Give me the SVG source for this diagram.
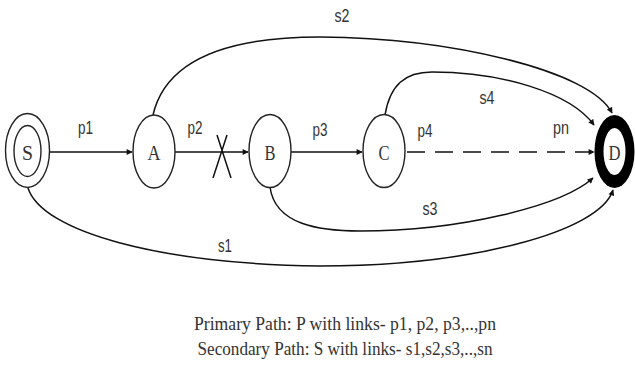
<svg xmlns="http://www.w3.org/2000/svg" width="635" height="383" viewBox="0 0 635 383">
<style>
.node{fill:#fff;stroke:#222;stroke-width:1.4}
.nl{font-family:"Liberation Serif",serif;font-size:21px;fill:#333;text-anchor:middle}
.lbl{font-family:"Liberation Sans",Arial,sans-serif;font-size:19px;fill:#333;text-anchor:middle}
.edge{fill:none;stroke:#111;stroke-width:1.5}
.cap{font-family:"Liberation Serif",serif;font-size:18px;fill:#333;text-anchor:middle}
</style>
<defs>
<marker id="ah" viewBox="0 0 10 10" refX="9" refY="5" markerWidth="7" markerHeight="6" markerUnits="userSpaceOnUse" orient="auto">
<path d="M0,0 L10,5 L0,10 z" fill="#111"/>
</marker>
</defs>
<rect width="635" height="383" fill="#fff"/>
<g id="connectors">
<line class="edge" x1="50" y1="152" x2="132" y2="152" marker-end="url(#ah)"/>
<line class="edge" x1="175" y1="152" x2="248" y2="152" marker-end="url(#ah)"/>
<line class="edge" x1="291" y1="152" x2="362" y2="152" marker-end="url(#ah)"/>
<line class="edge" x1="407" y1="152" x2="594" y2="152" stroke-dasharray="18 10" marker-end="url(#ah)"/>
<path class="edge" d="M217,135 L231,178 M227,135 L213,178"/>
<path class="edge" d="M153,115 C168,50 250,37 320,37 C450,38 590,70 612,113" marker-end="url(#ah)"/>
<path class="edge" d="M385,115 C390,85 405,72 432,72 C500,72 570,92 594,125" marker-end="url(#ah)"/>
<path class="edge" d="M270,187 C275,225 320,231 360,231 C460,231 562,206 593,178" marker-end="url(#ah)"/>
<path class="edge" d="M28,188 C42,232 160,264 320,266 C470,266 600,232 613,190" marker-end="url(#ah)"/>
</g>
<g id="labels">
<text class="lbl" x="85.5" y="134" textLength="15" lengthAdjust="spacingAndGlyphs">p1</text>
<text class="lbl" x="195" y="134" textLength="15" lengthAdjust="spacingAndGlyphs">p2</text>
<text class="lbl" x="320" y="136" textLength="15" lengthAdjust="spacingAndGlyphs">p3</text>
<text class="lbl" x="425" y="137" textLength="15" lengthAdjust="spacingAndGlyphs">p4</text>
<text class="lbl" x="561" y="134" textLength="16" lengthAdjust="spacingAndGlyphs">pn</text>
<text class="lbl" x="342" y="22" textLength="15" lengthAdjust="spacingAndGlyphs">s2</text>
<text class="lbl" x="487" y="104" textLength="15" lengthAdjust="spacingAndGlyphs">s4</text>
<text class="lbl" x="430" y="215" textLength="15" lengthAdjust="spacingAndGlyphs">s3</text>
<text class="lbl" x="225" y="252" textLength="14" lengthAdjust="spacingAndGlyphs">s1</text>
</g>
<g id="node-S">
<ellipse class="node" cx="27.5" cy="150.5" rx="22" ry="37"/>
<ellipse class="node" cx="27.5" cy="151" rx="13.5" ry="25.5"/>
<text class="nl" x="27.5" y="160" textLength="11" lengthAdjust="spacingAndGlyphs">S</text>
</g>
<g id="node-A">
<ellipse class="node" cx="154" cy="151.5" rx="21" ry="36.5"/>
<text class="nl" x="154" y="160" textLength="13" lengthAdjust="spacingAndGlyphs">A</text>
</g>
<g id="node-B">
<ellipse class="node" cx="270" cy="151" rx="21" ry="36.5"/>
<text class="nl" x="270" y="160" textLength="11" lengthAdjust="spacingAndGlyphs">B</text>
</g>
<g id="node-C">
<ellipse class="node" cx="384" cy="151" rx="21" ry="36.5"/>
<text class="nl" x="384" y="160" textLength="11" lengthAdjust="spacingAndGlyphs">C</text>
</g>
<g id="node-D">
<ellipse cx="614.5" cy="151.5" rx="20" ry="36.5" fill="#000"/>
<ellipse cx="614.5" cy="151.5" rx="11" ry="23.5" fill="#fff"/>
<text class="nl" x="614.5" y="160" textLength="12" lengthAdjust="spacingAndGlyphs">D</text>
</g>
<g id="caption">
<text class="cap" x="345" y="330" textLength="302" lengthAdjust="spacingAndGlyphs">Primary Path: P with links- p1, p2, p3,..,pn</text>
<text class="cap" x="345" y="355" textLength="295" lengthAdjust="spacingAndGlyphs">Secondary Path: S with links- s1,s2,s3,..,sn</text>
</g>
</svg>
